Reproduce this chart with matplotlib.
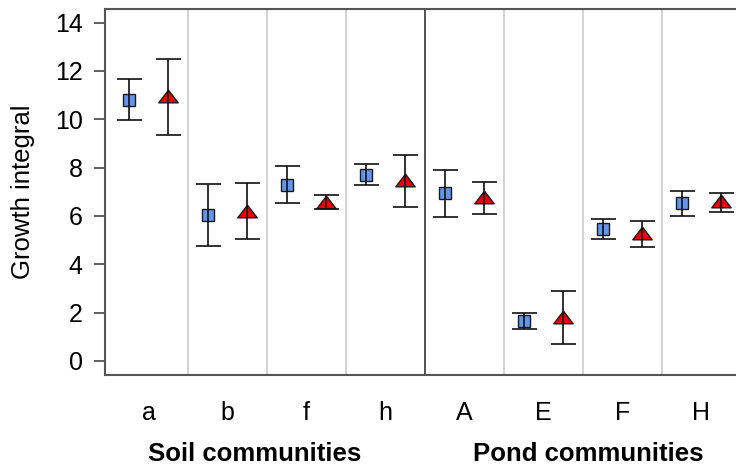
import matplotlib
matplotlib.use("Agg")
import matplotlib.pyplot as plt
from matplotlib.path import Path
import numpy as np

plt.rcParams['font.family'] = ['Liberation Sans', 'DejaVu Sans']

communities = ['a', 'b', 'f', 'h', 'A', 'E', 'F', 'H']
groups = ['Soil communities', 'Pond communities']

sq_mean = [10.8, 6.05, 7.3, 7.7, 6.95, 1.65, 5.45, 6.55]
sq_low = [9.97, 4.77, 6.55, 7.28, 5.97, 1.31, 5.03, 6.01]
sq_high = [11.65, 7.34, 8.07, 8.15, 7.9, 2.0, 5.86, 7.05]

tr_mean = [10.98, 6.22, 6.57, 7.49, 6.77, 1.83, 5.28, 6.6]
tr_low = [9.35, 5.05, 6.28, 6.38, 6.07, 0.70, 4.73, 6.15]
tr_high = [12.48, 7.35, 6.87, 8.52, 7.39, 2.9, 5.78, 6.96]

W, H = 736, 468
fig = plt.figure(figsize=(W / 100, H / 100), dpi=100)
ax = fig.add_axes([105 / W, 1 - 375 / H, (741 - 105) / W, (375 - 9) / H])

x = np.arange(len(communities))
off = 0.25

tri = Path([(-1, -0.65), (1, -0.65), (0, 0.65), (-1, -0.65)],
           [Path.MOVETO, Path.LINETO, Path.LINETO, Path.CLOSEPOLY])

# separators
for i in range(len(communities) - 1):
    dark = (i == 3)
    ax.axvline(i + 0.5, color='#444444' if dark else '#cccccc',
               lw=1.3 if dark else 1.2, zorder=1)

ax.plot(x - off, sq_mean, ls='none', marker='s', ms=9, mfc='#6495ED',
        mec='#1a1a1a', mew=1.0, zorder=3)
ax.plot(x + off, tr_mean, ls='none', marker=tri, ms=14, mfc='#EE0000',
        mec='#1a1a1a', mew=1.0, zorder=3)

sm = np.array(sq_mean); tm = np.array(tr_mean)
ax.errorbar(x - off, sm, yerr=[sm - np.array(sq_low), np.array(sq_high) - sm],
            fmt='none', ecolor='#111111', elinewidth=1.2, capsize=9, capthick=1.2, zorder=4)
ax.errorbar(x + off, tm, yerr=[tm - np.array(tr_low), np.array(tr_high) - tm],
            fmt='none', ecolor='#111111', elinewidth=1.2, capsize=9, capthick=1.2, zorder=4)

x_left = (105 - 148.5) / 79
x_right = (741 - 148.5) / 79
ax.set_xlim(x_left, x_right)
y_bot = (361 - 375) / 24.17
y_top = (361 - 9) / 24.17
ax.set_ylim(y_bot, y_top)

ax.set_yticks(range(0, 15, 2))
ax.tick_params(axis='y', labelsize=18, length=8, width=1.2, color='#444444', pad=8)
ax.set_xticks(x)
ax.set_xticklabels(communities)
ax.tick_params(axis='x', labelsize=18, length=0, pad=19)
for s in ax.spines.values():
    s.set_color('#555555')
    s.set_linewidth(1.5)
ax.spines['right'].set_visible(False)

ax.set_ylabel('Growth integral', fontsize=18.5, labelpad=14)

fig.text(255 / W, 1 - 454 / H, groups[0], fontsize=18.5,
         fontweight='bold', ha='center', va='center')
fig.text(588 / W, 1 - 454 / H, groups[1], fontsize=18.5,
         fontweight='bold', ha='center', va='center')

fig.savefig('out.png', dpi=100)
